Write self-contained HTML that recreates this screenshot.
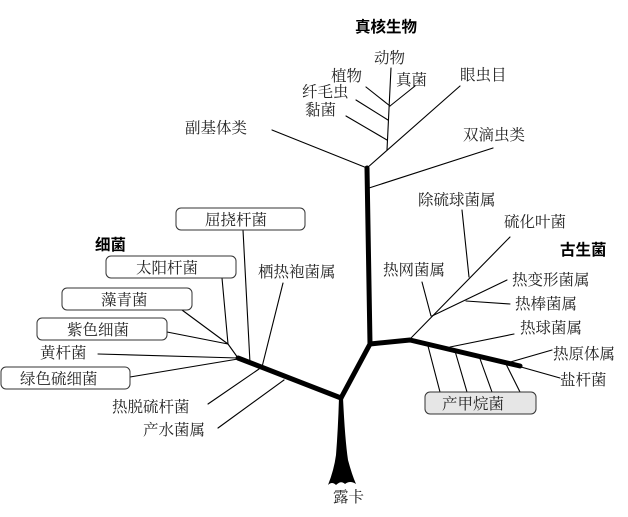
<!DOCTYPE html>
<html><head><meta charset="utf-8"><style>
html,body{margin:0;padding:0;background:#fff;}
svg{display:block;}
text{font-family:"Noto Serif CJK SC","Liberation Serif",serif;font-size:15.5px;fill:#222;}
.b{font-family:"Liberation Sans","Noto Sans CJK SC",sans-serif;font-weight:bold;font-size:15.5px;fill:#000;}
</style></head><body>
<svg width="628" height="517" viewBox="0 0 628 517" xmlns="http://www.w3.org/2000/svg">
<g stroke="#000" fill="none" stroke-linecap="round" stroke-linejoin="round">
<polyline points="367,168 370,344 341,398" stroke-width="5"/>
<polyline points="370,344 410,340 520,366" stroke-width="5"/>
<polyline points="238,358 341,398" stroke-width="5"/>
<g stroke-width="1.1">
<line x1="272" y1="130" x2="367" y2="168"/>
<line x1="367" y1="168" x2="460" y2="86"/>
<line x1="387" y1="150" x2="391" y2="68"/>
<line x1="346" y1="116" x2="387" y2="140"/>
<line x1="356" y1="100" x2="388" y2="120"/>
<line x1="366" y1="87" x2="390" y2="106"/>
<line x1="390" y1="106" x2="415" y2="86"/>
<line x1="369" y1="188" x2="493" y2="148"/>
<line x1="243" y1="230" x2="250" y2="363"/>
<line x1="222" y1="278" x2="228" y2="344"/>
<line x1="182" y1="310" x2="228" y2="344"/>
<line x1="167" y1="332" x2="228" y2="344"/>
<line x1="228" y1="344" x2="238" y2="358"/>
<line x1="98" y1="354" x2="238" y2="358"/>
<line x1="130" y1="377" x2="238" y2="359"/>
<line x1="283" y1="283" x2="262" y2="367"/>
<line x1="208" y1="404" x2="259" y2="369"/>
<line x1="218" y1="428" x2="284" y2="380"/>
<line x1="411" y1="338" x2="510" y2="237"/>
<line x1="462" y1="210" x2="469" y2="277"/>
<line x1="422" y1="282" x2="431" y2="316"/>
<line x1="507" y1="280" x2="432" y2="316"/>
<line x1="466" y1="301" x2="510" y2="304"/>
<line x1="514" y1="334" x2="450" y2="347"/>
<line x1="552" y1="350" x2="507" y2="363"/>
<line x1="560" y1="378" x2="507" y2="363"/>
<line x1="440" y1="392" x2="428" y2="346"/>
<line x1="467" y1="392" x2="455" y2="351"/>
<line x1="492" y1="392" x2="479" y2="356"/>
<line x1="520" y1="392" x2="505" y2="362"/>
</g>
</g>
<path d="M339,398 L343,398 Q345,440 348,460 Q352,475 356,484 Q350,480 345,484 Q341,480 336,485 Q332,481 328,485 Q334,470 336,455 Q338,430 339,398 Z" fill="#000"/>
<g fill="#fff" stroke="#333" stroke-width="1">
<rect x="176" y="208" width="129" height="22" rx="5"/>
<rect x="106" y="256" width="130" height="22" rx="5"/>
<rect x="62" y="288" width="130" height="22" rx="5"/>
<rect x="37" y="318" width="130" height="22" rx="5"/>
<rect x="1" y="367" width="129" height="22" rx="5"/>
<rect x="425" y="392" width="111" height="22" rx="5" fill="#e6e6e6"/>
</g>
<text class="b" x="355" y="32">真核生物</text>
<text x="374" y="63">动物</text>
<text x="331" y="81">植物</text>
<text x="396" y="85">真菌</text>
<text x="460" y="80">眼虫目</text>
<text x="302" y="97">纤毛虫</text>
<text x="305" y="115">黏菌</text>
<text x="185" y="133">副基体类</text>
<text x="463" y="140">双滴虫类</text>
<text x="418" y="205">除硫球菌属</text>
<text x="504" y="227">硫化叶菌</text>
<text class="b" x="560" y="255">古生菌</text>
<text x="383" y="275">热网菌属</text>
<text x="512" y="285">热变形菌属</text>
<text x="515" y="309">热棒菌属</text>
<text x="520" y="333">热球菌属</text>
<text x="553" y="359">热原体属</text>
<text x="560" y="385">盐杆菌</text>
<text x="442" y="409">产甲烷菌</text>
<text class="b" x="95" y="250">细菌</text>
<text x="205" y="225">屈挠杆菌</text>
<text x="136" y="273">太阳杆菌</text>
<text x="101" y="305">藻青菌</text>
<text x="67" y="335">紫色细菌</text>
<text x="40" y="358">黄杆菌</text>
<text x="20" y="384">绿色硫细菌</text>
<text x="258" y="277">栖热袍菌属</text>
<text x="112" y="412">热脱硫杆菌</text>
<text x="143" y="435">产水菌属</text>
<text x="333" y="502">露卡</text>
</svg>
</body></html>
